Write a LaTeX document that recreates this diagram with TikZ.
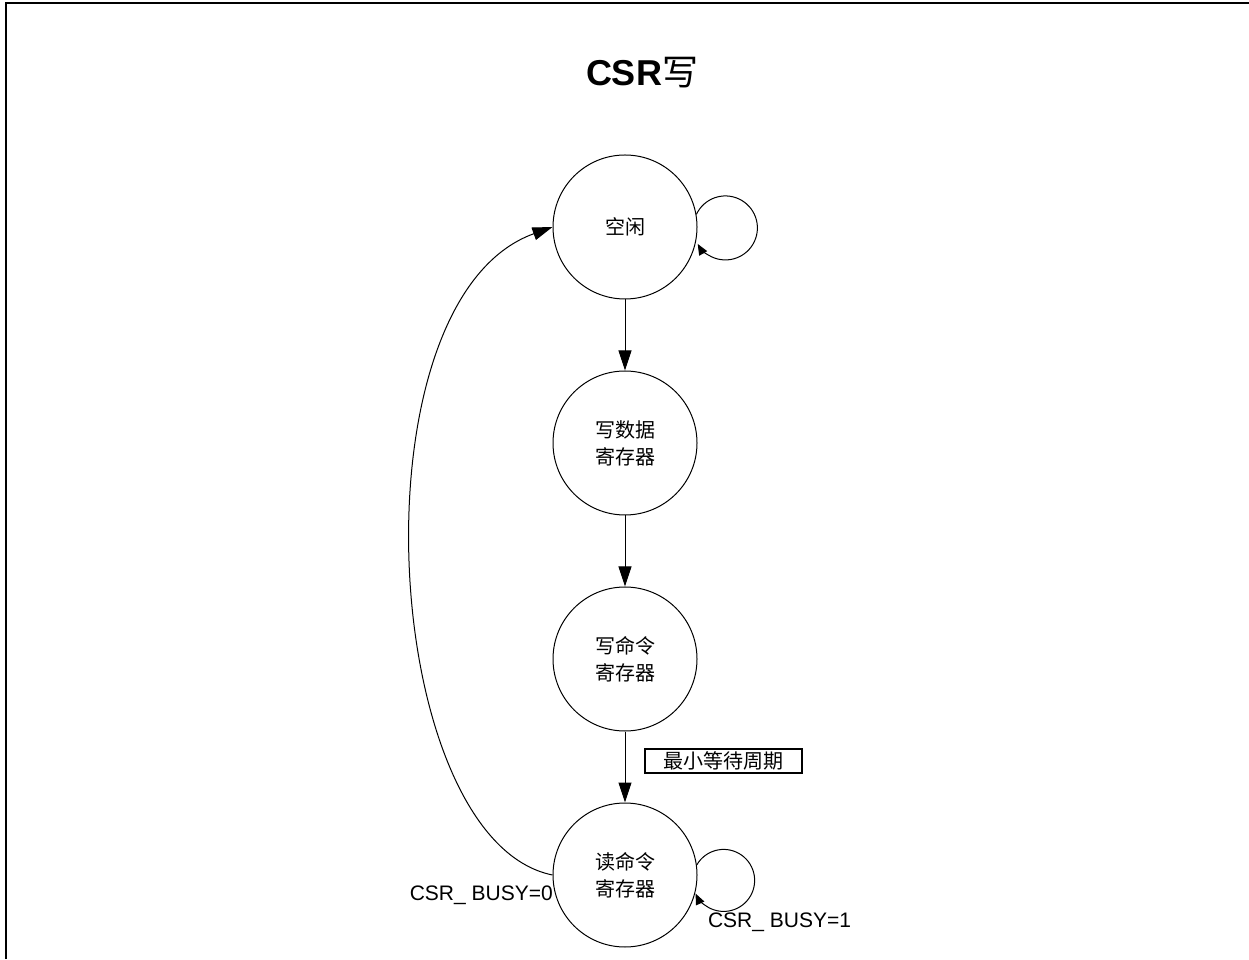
\documentclass[tikz,border=0pt]{standalone}
\usepackage{fontspec}
\setmainfont{Liberation Sans}
\newfontfamily\cjk{Noto Sans CJK SC}
\usetikzlibrary{arrows.meta}
\tikzset{
  state/.style={circle,draw,line width=1pt,minimum size=144pt,inner sep=0pt,
    align=center,font=\cjk\fontsize{20}{27}\selectfont},
  bigarrow/.style={line width=1pt,-{Triangle[length=20pt,width=13pt]}},
  loopar/.style={line width=1pt,-{Triangle[length=11pt,width=9pt]}},
  condlbl/.style={font=\fontsize{21}{24}\selectfont,inner sep=0pt},
  boxlbl/.style={draw,line width=1.5pt,minimum width=157pt,minimum height=24pt,
    inner sep=0pt,font=\cjk\fontsize{20}{24}\selectfont},
  frame/.style={line width=2pt,line join=miter}
}
\begin{document}
\begin{tikzpicture}[x=1pt,y=1pt]
\useasboundingbox (0,0) rectangle (1249,959);
\coordinate (fb) at (6,0);
\coordinate (fc) at (6,955.7);
\coordinate (fr) at (1249,955.7);
\draw[frame] (fb) -- (fc) -- (fr);

\node[inner sep=0pt] (title) at (642,886) {\fontsize{36}{40}\selectfont\bfseries CSR{\cjk\mdseries 写}};

\node[state] (idle) at (625,732) {空闲};
\node[state] (wd) at (625,516) {写数据\\寄存器};
\node[state] (wc) at (625,300) {写命令\\寄存器};
\node[state] (rc) at (625,84) {读命令\\寄存器};

\draw[bigarrow] (idle) -- (wd);
\draw[bigarrow] (wd) -- (wc);
\draw[bigarrow] (wc) -- (rc);

\node[boxlbl] (lbl) at (723.5,198) {最小等待周期};

\draw[loopar] (idle.10) arc[start angle=155,end angle=-150,radius=32];
\draw[loopar] (rc.8) arc[start angle=150,end angle=-155,radius=31];

\draw[bigarrow] (rc.west) .. controls +(-173,35) and +(-203,-73) .. (idle.west);

\node[condlbl,anchor=east] (c0) at (553,64) {CSR\_ BUSY=0};
\node[condlbl] (c1) at (779.5,37) {CSR\_ BUSY=1};
\end{tikzpicture}
\end{document}
